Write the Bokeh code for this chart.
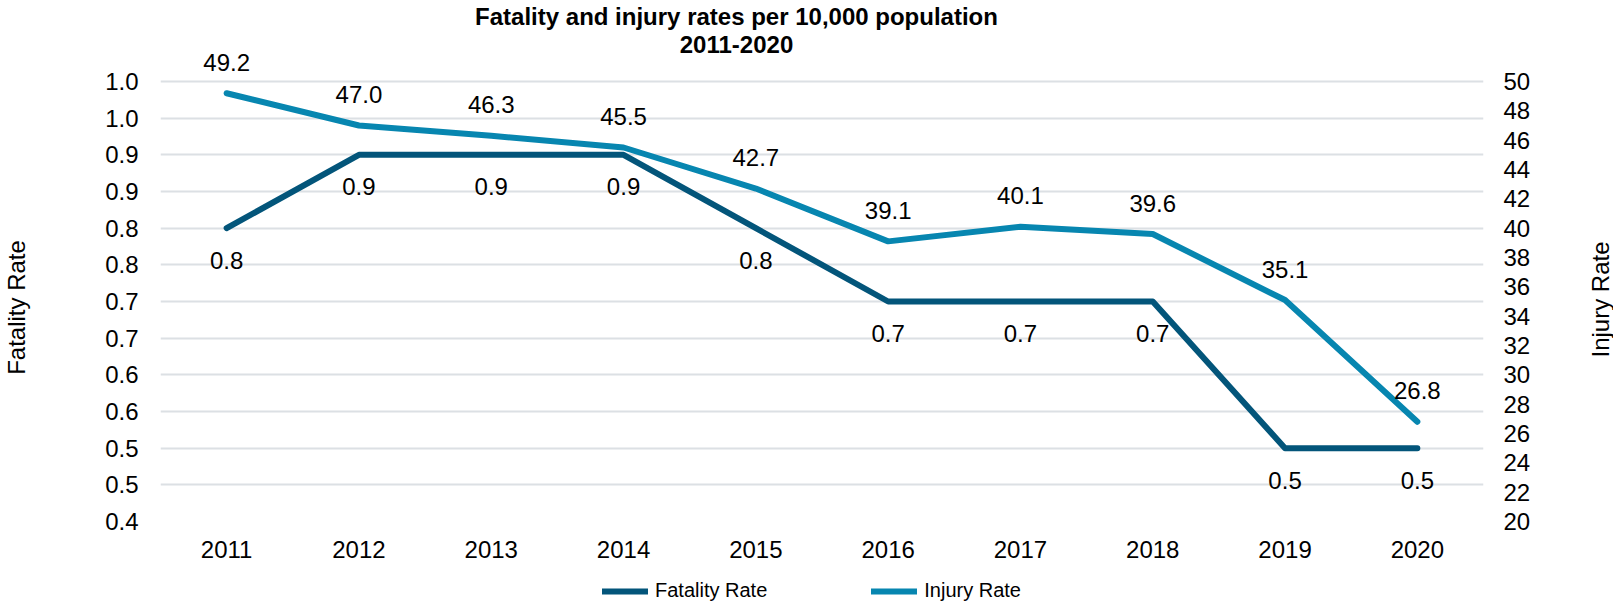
import math
from bokeh.plotting import figure
from bokeh.layouts import column, row
from bokeh.models import (Range1d, LinearAxis, FixedTicker, ColumnDataSource,
                          LabelSet, Label, Legend, LegendItem, FactorRange)
from bokeh.embed import file_html
from bokeh.resources import INLINE
from bokeh.core.properties import value

# ---------------- data ----------------
years = ["2011", "2012", "2013", "2014", "2015", "2016", "2017", "2018", "2019", "2020"]
fatality_rate = [0.8, 0.9, 0.9, 0.9, 0.8, 0.7, 0.7, 0.7, 0.5, 0.5]
injury_rate = [49.2, 47.0, 46.3, 45.5, 42.7, 39.1, 40.1, 39.6, 35.1, 26.8]

fatality_ticks = [0.40, 0.45, 0.50, 0.55, 0.60, 0.65, 0.70, 0.75, 0.80, 0.85, 0.90, 0.95, 1.00]
fatality_tick_labels = ["0.4", "0.5", "0.5", "0.6", "0.6", "0.7", "0.7",
                        "0.8", "0.8", "0.9", "0.9", "1.0", "1.0"]
injury_ticks = [20, 22, 24, 26, 28, 30, 32, 34, 36, 38, 40, 42, 44, 46, 48, 50]

title_lines = ["Fatality and injury rates per 10,000 population", "2011-2020"]
left_axis_title = "Fatality Rate"
right_axis_title = "Injury Rate"
series_names = ["Fatality Rate", "Injury Rate"]

# ---------------- style / layout (picture pixels) ----------------
FAT_COLOR = "#03557A"
INJ_COLOR = "#0786B0"
GRID_COLOR = "#DCE0E4"
TEXT_COLOR = "#000000"
FONT = "Liberation Sans"

W_TOTAL = 1613
W_LSTRIP, W_RSTRIP = 40, 60
W_MAIN = W_TOTAL - W_LSTRIP - W_RSTRIP
H_MAIN, H_LEG = 570, 35
FRAME_L, FRAME_R, FRAME_B = 160, 1483, 521
AXIS_TOP_PX = 81                      # row of the 1.0 / 50 gridline
BL = FRAME_L - W_LSTRIP
BR = (W_LSTRIP + W_MAIN) - FRAME_R
BT, BB = 0, H_MAIN - FRAME_B
px_span = FRAME_B - AXIS_TOP_PX
fat_lo, fat_hi = 0.4, 1.0
inj_lo, inj_hi = 20, 50
fat_top = fat_hi + AXIS_TOP_PX * (fat_hi - fat_lo) / px_span
inj_top = inj_hi + AXIS_TOP_PX * (inj_hi - inj_lo) / px_span

common = dict(output_backend="svg", toolbar_location=None, title=None)

p = figure(width=W_MAIN, height=H_MAIN,
           x_range=FactorRange(factors=years),
           y_range=Range1d(fat_lo, fat_top),
           min_border_left=BL, min_border_right=BR,
           min_border_top=BT, min_border_bottom=BB, **common)
p.extra_y_ranges = {"injury": Range1d(inj_lo, inj_top)}
p.outline_line_color = None
p.background_fill_color = "white"
p.border_fill_color = "white"

right_axis = LinearAxis(y_range_name="injury", ticker=FixedTicker(ticks=injury_ticks))
p.add_layout(right_axis, "right")

left_axis = p.left[0]
left_axis.ticker = FixedTicker(ticks=fatality_ticks)
left_axis.major_label_overrides = dict(zip(fatality_ticks, fatality_tick_labels))
xaxis = p.xaxis[0]

for ax in [left_axis, right_axis, xaxis]:
    ax.axis_line_color = None
    ax.major_tick_line_color = None
    ax.minor_tick_line_color = None
    ax.major_tick_out = 0
    ax.major_tick_in = 0
    ax.minor_tick_out = 0
    ax.minor_tick_in = 0
    ax.major_label_text_font_size = "24px"
    ax.major_label_text_font = FONT
    ax.major_label_text_color = TEXT_COLOR

left_axis.major_label_standoff = 22
right_axis.major_label_standoff = 20
xaxis.major_label_standoff = 19

p.ygrid.ticker = FixedTicker(ticks=fatality_ticks)
p.ygrid.grid_line_color = GRID_COLOR
p.ygrid.grid_line_width = 2
p.xgrid.grid_line_color = None

src = ColumnDataSource(dict(
    year=years,
    fatality=fatality_rate,
    injury=injury_rate,
    f_lab=[f"{v:.1f}" for v in fatality_rate],
    i_lab=[f"{v:.1f}" for v in injury_rate],
))

line_kw = dict(line_width=6, line_cap="round", line_join="round")
rf = p.line("year", "fatality", source=src, line_color=FAT_COLOR, **line_kw)
ri = p.line("year", "injury", source=src, y_range_name="injury", line_color=INJ_COLOR, **line_kw)

lab_kw = dict(text_align="center", text_baseline="middle", text_font_size="24px",
              text_font=value(FONT), text_color=TEXT_COLOR)
p.add_layout(LabelSet(x="year", y="fatality", text="f_lab", source=src, y_offset=-32, **lab_kw))
p.add_layout(LabelSet(x="year", y="injury", text="i_lab", source=src, y_range_name="injury",
                      y_offset=31, **lab_kw))

# chart title (screen units relative to the frame's bottom-left corner)
title_kw = dict(x_units="screen", y_units="screen", text_align="center", text_baseline="middle",
                text_font_size="24px", text_font=FONT, text_font_style="bold",
                text_color=TEXT_COLOR)
TITLE_CX = 736
p.add_layout(Label(x=TITLE_CX - FRAME_L, y=FRAME_B - 16, text=title_lines[0], **title_kw))
p.add_layout(Label(x=TITLE_CX - FRAME_L, y=FRAME_B - 44, text=title_lines[1], **title_kw))


# ---------------- side strips with the axis titles ----------------
def strip(width):
    s = figure(width=width, height=H_MAIN, x_range=Range1d(0, 1), y_range=Range1d(0, 1),
               x_axis_location=None, y_axis_location=None,
               min_border_left=0, min_border_right=0, min_border_top=BT,
               min_border_bottom=BB, **common)
    s.outline_line_color = None
    s.xgrid.visible = False
    s.ygrid.visible = False
    return s


axt_kw = dict(x_units="screen", y_units="screen", text_align="center", text_baseline="middle",
              text_font_size="24px", text_font=FONT, text_color=TEXT_COLOR,
              angle=math.pi / 2)
ls = strip(W_LSTRIP)
ls.add_layout(Label(x=16, y=FRAME_B - 307, text=left_axis_title, **axt_kw))
rs = strip(W_RSTRIP)
rs.add_layout(Label(x=1600 - (W_LSTRIP + W_MAIN), y=FRAME_B - 299, text=right_axis_title, **axt_kw))

# ---------------- legend strip ----------------
pl = figure(width=W_TOTAL, height=H_LEG, x_range=FactorRange(factors=years),
            y_range=Range1d(1000, 1001),
            x_axis_location=None, y_axis_location=None,
            min_border_left=FRAME_L, min_border_right=W_TOTAL - FRAME_R,
            min_border_top=0, min_border_bottom=0, **common)
pl.outline_line_color = None
pl.xgrid.visible = False
pl.ygrid.visible = False
lf = pl.line("year", "fatality", source=src, line_color=FAT_COLOR, **line_kw)
li = pl.line("year", "injury", source=src, line_color=INJ_COLOR, **line_kw)

legend = Legend(items=[LegendItem(label=series_names[0], renderers=[lf]),
                       LegendItem(label=series_names[1], renderers=[li])],
                location=(602 - FRAME_L, H_LEG - 32), orientation="horizontal",
                glyph_width=46, glyph_height=22, label_height=22, label_standoff=7,
                spacing=104, padding=0, margin=0, border_line_color=None,
                background_fill_alpha=0, label_text_font_size="20px",
                label_text_font=FONT, label_text_color=TEXT_COLOR)
pl.add_layout(legend)

layout = column(row(ls, p, rs, spacing=0), pl, spacing=0)
open("out.html", "w").write(file_html(layout, INLINE))
